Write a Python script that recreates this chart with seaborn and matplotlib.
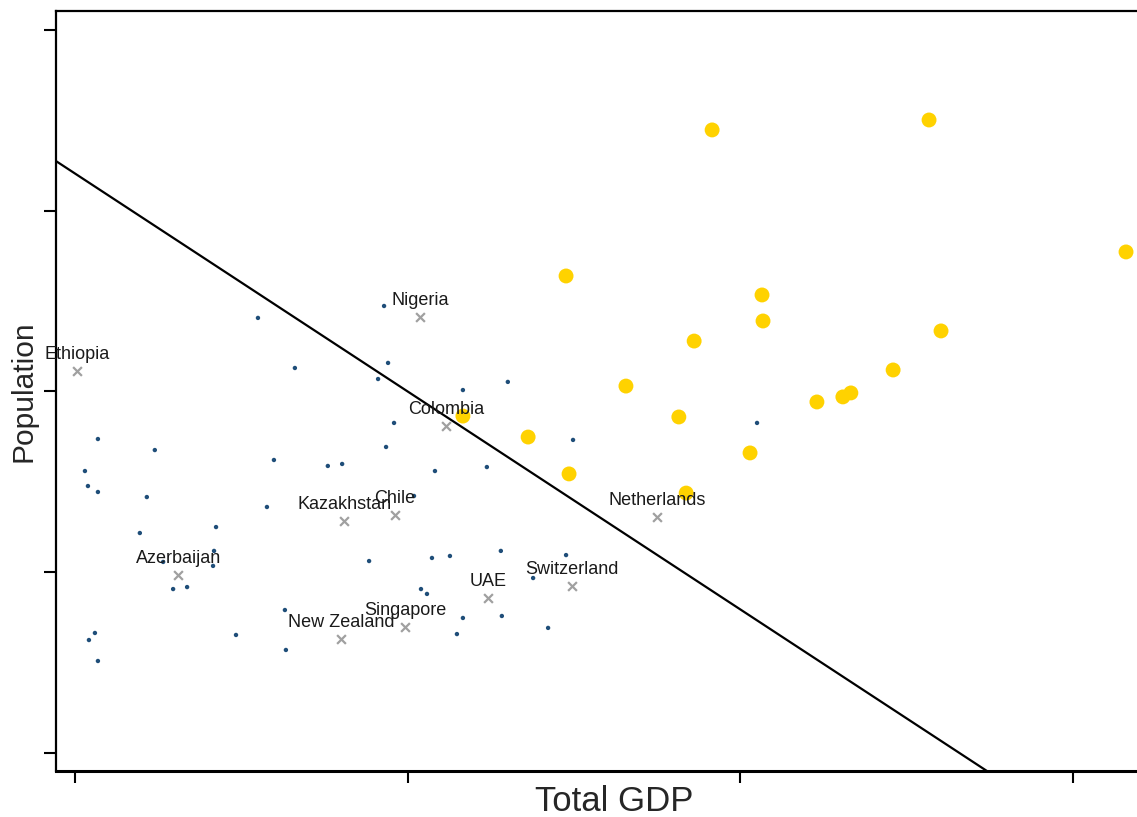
import matplotlib
matplotlib.use("Agg")
import matplotlib.pyplot as plt
import seaborn as sns
import pandas as pd

sns.set_style("white")
plt.rcParams["font.family"] = ["Liberation Sans", "DejaVu Sans"]

# Unlabelled countries (small dots)
other_gdp = [0.550, 0.661, 0.069, 0.240, 0.598, 0.030, 0.039, 0.069, 0.216, 0.577,
             0.195, 0.424, 0.265, 0.418, 0.415, 0.295, 0.337, 0.631, 0.060, 0.042,
             0.484, 0.634, 0.069, 0.929, 0.941, 0.911, 1.166, 1.301, 0.959, 0.935,
             0.760, 0.803, 1.082, 1.238, 1.019, 0.884, 1.073, 1.127, 1.280, 1.377,
             1.040, 1.058, 1.166, 1.283, 1.148, 1.422, 1.476, 1.497, 2.050]
other_pop = [2.407, 2.130, 1.737, 1.676, 1.621, 1.560, 1.477, 1.444, 1.416, 1.361,
             1.217, 1.250, 1.057, 1.118, 1.035, 0.907, 0.918, 0.791, 0.664, 0.625,
             0.653, 0.570, 0.509, 2.473, 2.158, 2.069, 2.008, 2.053, 1.826, 1.693,
             1.588, 1.599, 1.560, 1.582, 1.422, 1.062, 1.079, 1.090, 1.118, 0.968,
             0.907, 0.880, 0.747, 0.758, 0.658, 0.692, 1.095, 1.732, 1.826]

# Named countries
named = ["Ethiopia", "Nigeria", "Colombia", "Kazakhstan", "Chile", "Azerbaijan",
         "New Zealand", "Singapore", "UAE", "Switzerland", "Netherlands"]
named_gdp = [0.006, 1.037, 1.115, 0.809, 0.962, 0.310, 0.800, 0.992, 1.241, 1.494, 1.749]
named_pop = [2.113, 2.412, 1.809, 1.284, 1.317, 0.985, 0.631, 0.697, 0.858, 0.924, 1.306]

# Countries above the frontier
top_gdp = [1.915, 2.567, 3.159, 1.476, 2.065, 2.068, 1.861, 2.603, 1.656, 2.459,
           2.230, 2.308, 2.332, 1.815, 1.166, 1.362, 2.029, 1.485, 1.837]
top_pop = [3.447, 3.502, 2.772, 2.639, 2.534, 2.390, 2.279, 2.335, 2.030, 2.119,
           1.942, 1.970, 1.992, 1.859, 1.864, 1.748, 1.660, 1.544, 1.438]

# Frontier line: population = intercept + slope * gdp
line_intercept = 3.206
line_slope = -1.206

x_ticks = [0, 1, 2, 3]
y_ticks = [0, 1, 2, 3, 4]

others = pd.DataFrame({"gdp": other_gdp, "pop": other_pop})
labelled = pd.DataFrame({"country": named, "gdp": named_gdp, "pop": named_pop})
top = pd.DataFrame({"gdp": top_gdp, "pop": top_pop})

fig = plt.figure(figsize=(11.37, 8.17), dpi=100)
ax = fig.add_axes([56 / 1137, 1 - 771 / 817, 1 - 56 / 1137, (771 - 11) / 817])

sns.scatterplot(data=others, x="gdp", y="pop", ax=ax, color="#1f4e79", s=10,
                edgecolor="none", zorder=3)
sns.scatterplot(data=top, x="gdp", y="pop", ax=ax, color="#ffd200", s=115,
                edgecolor="none", zorder=2)
sns.scatterplot(data=labelled, x="gdp", y="pop", ax=ax, color="#a0a0a0", marker="x",
                s=40, linewidth=1.6, zorder=3)

for name, gx, py in zip(named, named_gdp, named_pop):
    ax.annotate(name, (gx, py), xytext=(0, 12), textcoords="offset points",
                ha="center", va="center", fontsize=13, color="#1a1a1a", zorder=4)

ax.axline((0, line_intercept), slope=line_slope, color="black", linewidth=1.6, zorder=1)

ax.set_xlim(-0.057, 3.192)
ax.set_ylim(-0.0996, 4.105)
ax.set_xticks(x_ticks)
ax.set_yticks(y_ticks)
ax.set_xticklabels([])
ax.set_yticklabels([])
ax.tick_params(axis="both", direction="out", length=8.5, width=1.5, color="black",
               bottom=True, left=True)

for side in ["left", "top"]:
    ax.spines[side].set_color("black")
    ax.spines[side].set_linewidth(1.6)
ax.spines["bottom"].set_color("black")
ax.spines["bottom"].set_linewidth(2.2)
ax.spines["right"].set_visible(False)

ax.set_xlabel("Total GDP", fontsize=25)
ax.xaxis.set_label_coords(0.516, -0.019)
ax.set_ylabel("Population", fontsize=21.5)
ax.yaxis.set_label_coords(-0.017, 0.5)

fig.savefig("out.png", dpi=100)
